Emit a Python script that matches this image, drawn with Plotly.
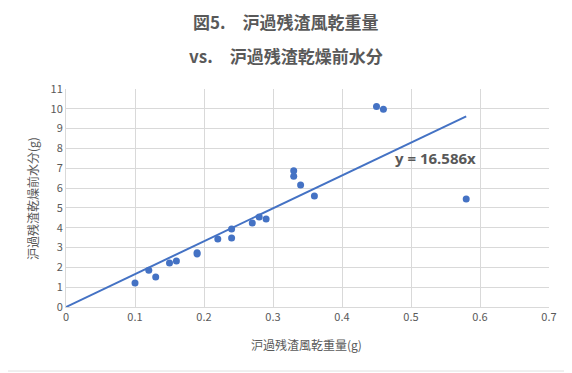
import plotly.graph_objects as go

# Data
x_vals = [0.10, 0.12, 0.13, 0.15, 0.16, 0.19, 0.19, 0.22, 0.24, 0.24, 0.27, 0.28, 0.29,
          0.33, 0.33, 0.34, 0.36, 0.45, 0.46, 0.58]
y_vals = [1.21, 1.85, 1.51, 2.22, 2.32, 2.68, 2.74, 3.43, 3.93, 3.48, 4.24, 4.54, 4.44,
          6.87, 6.60, 6.15, 5.60, 10.12, 9.98, 5.45]
slope = 16.586
trend_x = [0.0, 0.58]
trend_y = [slope * v for v in trend_x]

title_line1 = "図5.　沪過残渣風乾重量"
title_line2 = "vs.　沪過残渣乾燥前水分"
x_title = "沪過残渣風乾重量(g)"
y_title = "沪過残渣乾燥前水分(g)"
eq_text = "y = 16.586x"

blue = "#4472C4"
gray_text = "#595959"
grid = "#D9D9D9"
font_family = "Noto Sans CJK JP, Noto Sans, sans-serif"

# page has an 8px body margin; figure sized to fit the window exactly
OFF = 8
W, H = 572 - OFF, 373 - OFF
L, T = 66 - OFF, 89 - OFF
pw, ph = 483, 218
R, B = W - L - pw, H - T - ph


def px(xpage):
    return (xpage - OFF - L) / pw


def py(ypage):
    return (T + ph - (ypage - OFF)) / ph


fig = go.Figure()
fig.add_trace(go.Scatter(x=trend_x, y=trend_y, mode="lines",
                         line=dict(color=blue, width=2), hoverinfo="skip", showlegend=False))
fig.add_trace(go.Scatter(x=x_vals, y=y_vals, mode="markers",
                         marker=dict(color=blue, size=7), showlegend=False))

fig.update_layout(
    width=W, height=H,
    margin=dict(l=L, r=R, t=T, b=B),
    paper_bgcolor="white", plot_bgcolor="white",
    font=dict(family=font_family, color=gray_text, size=11),
    xaxis=dict(range=[0, 0.7], dtick=0.1, showgrid=True, gridcolor=grid,
               gridwidth=1, zeroline=False, showline=True, linecolor=grid,
               ticks="", tickfont=dict(size=11, color=gray_text), automargin=False),
    yaxis=dict(range=[0, 11], dtick=1, showgrid=True, gridcolor=grid, gridwidth=1,
               zeroline=False, showline=True, linecolor=grid, ticks="",
               tickfont=dict(size=11, color=gray_text), automargin=False),
    annotations=[
        dict(x=px(286), y=py(22), xref="paper", yref="paper", text=f"<b>{title_line1}</b>",
             showarrow=False, xanchor="center", yanchor="middle",
             font=dict(size=17, color=gray_text)),
        dict(x=px(286), y=py(56), xref="paper", yref="paper", text=f"<b>{title_line2}</b>",
             showarrow=False, xanchor="center", yanchor="middle",
             font=dict(size=17, color=gray_text)),
        dict(x=px(306), y=py(344), xref="paper", yref="paper", text=x_title,
             showarrow=False, xanchor="center", yanchor="middle",
             font=dict(size=12, color=gray_text)),
        dict(x=px(32), y=py(199), xref="paper", yref="paper", text=y_title, textangle=-90,
             showarrow=False, xanchor="center", yanchor="middle",
             font=dict(size=12, color=gray_text)),
        dict(x=0.536, y=7.52, xref="x", yref="y", text=f"<b>{eq_text}</b>",
             showarrow=False, font=dict(size=15, color=gray_text, family="Open Sans, sans-serif")),
    ],
    shapes=[
        dict(type="line", xref="paper", yref="paper",
             x0=px(570), x1=px(570), y0=py(373), y1=py(8),
             line=dict(color="#C8C8C8", width=2)),
        dict(type="line", xref="paper", yref="paper",
             x0=px(8), x1=px(571), y0=py(371), y1=py(371),
             line=dict(color="#E0E0E0", width=1)),
    ],
)

fig.write_html("out.html")
